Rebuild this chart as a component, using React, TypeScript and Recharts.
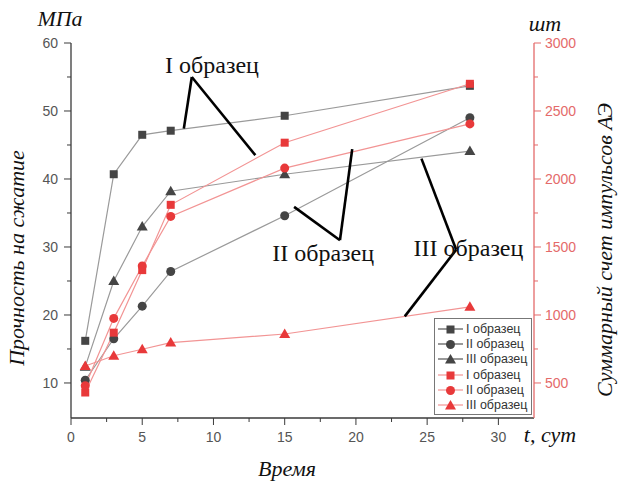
import React from "react"
import { LineChart, Line, XAxis, YAxis, ReferenceLine, ReferenceDot } from "recharts"

const days = [1, 3, 5, 7, 15, 28]
const strengthI = [16.2, 40.7, 46.5, 47.1, 49.3, 53.7]
const strengthII = [10.4, 16.5, 21.3, 26.4, 34.6, 49.0]
const strengthIII = [12.4, 25.0, 33.0, 38.2, 40.7, 44.1]
const aeI = [430, 870, 1330, 1810, 2267, 2700]
const aeII = [480, 975, 1360, 1725, 2080, 2405]
const aeIII = [625, 700, 748, 797, 860, 1060]

const xTicks = [0, 2.5, 5, 7.5, 10, 12.5, 15, 17.5, 20, 22.5, 25, 27.5, 30]
const leftTicks = [10, 15, 20, 25, 30, 35, 40, 45, 50, 55, 60]
const rightTicks = [500, 750, 1000, 1250, 1500, 1750, 2000, 2250, 2500, 2750, 3000]

const seriesNames = ["I образец", "II образец", "III образец"]

// pointer lines from the labels to the curves (x in days, y in MPa)
const pointers = [
  { label: "I образец", at: [9.9, 56.7], path: [[7.92, 47.4], [8.48, 55.0], [12.94, 43.5]] },
  { label: "II образец", at: [17.7, 29.1], path: [[15.66, 35.9], [18.88, 31.0], [19.74, 44.4]] },
  { label: "III образец", at: [27.9, 29.9], path: [[24.6, 43.0], [27.04, 29.6], [23.43, 19.8]] },
]

const rows = days.map((d, i) => ({
  day: d,
  sI: strengthI[i],
  sII: strengthII[i],
  sIII: strengthIII[i],
  aI: aeI[i],
  aII: aeII[i],
  aIII: aeIII[i],
}))

const GRAY_LINE = "#9a9a9a"
const GRAY_MARK = "#454545"
const RED_LINE = "#f29494"
const RED_MARK = "#e8393a"
const AXIS = "#3a3a3a"
const RED_AXIS = "#e46a6a"
const sans = "'Liberation Sans', Arial, sans-serif"
const serif = "'Liberation Serif', 'Times New Roman', serif"

function Marker({ kind, cx, cy, color }: { kind: string; cx: number; cy: number; color: string }) {
  if (cx == null || cy == null) return null
  if (kind === "square") return <rect x={cx - 4} y={cy - 4} width={8} height={8} fill={color} />
  if (kind === "circle") return <circle cx={cx} cy={cy} r={4.5} fill={color} />
  return <polygon points={`${cx},${cy - 5.5} ${cx - 5.5},${cy + 4} ${cx + 5.5},${cy + 4}`} fill={color} />
}

const dot = (kind: string, color: string) => (p: any) => (
  <Marker key={`${kind}-${color}-${p.index}`} kind={kind} cx={p.cx} cy={p.cy} color={color} />
)

function BottomTick(p: any) {
  const major = p.payload.value % 5 === 0
  return (
    <g>
      <line x1={p.x} x2={p.x} y1={p.y} y2={p.y + (major ? 7 : 4)} stroke={AXIS} />
      {major && (
        <text x={p.x} y={p.y + 24} textAnchor="middle" fontSize={14} fontFamily={sans} fill="#555">
          {p.payload.value}
        </text>
      )}
    </g>
  )
}

function TopTick(p: any) {
  const major = p.payload.value % 5 === 0
  return <line x1={p.x} x2={p.x} y1={p.y} y2={p.y + (major ? 6 : 4)} stroke={AXIS} />
}

function LeftTick(p: any) {
  const major = p.payload.value % 10 === 0
  return (
    <g>
      <line x1={p.x} x2={p.x - (major ? 7 : 4)} y1={p.y} y2={p.y} stroke={AXIS} />
      {major && (
        <text x={p.x - 13} y={p.y + 5} textAnchor="end" fontSize={14} fontFamily={sans} fill="#555">
          {p.payload.value}
        </text>
      )}
    </g>
  )
}

function RightTick(p: any) {
  const major = p.payload.value % 500 === 0
  return (
    <g>
      <line x1={p.x} x2={p.x + (major ? 7 : 4)} y1={p.y} y2={p.y} stroke={RED_AXIS} />
      {major && (
        <text x={p.x + 11} y={p.y + 5} textAnchor="start" fontSize={14} fontFamily={sans} fill={RED_AXIS}>
          {p.payload.value}
        </text>
      )}
    </g>
  )
}

const legendItems = [
  { name: seriesNames[0], kind: "square", line: "#555", mark: GRAY_MARK },
  { name: seriesNames[1], kind: "circle", line: "#555", mark: GRAY_MARK },
  { name: seriesNames[2], kind: "triangle", line: "#555", mark: GRAY_MARK },
  { name: seriesNames[0], kind: "square", line: RED_LINE, mark: RED_MARK },
  { name: seriesNames[1], kind: "circle", line: RED_LINE, mark: RED_MARK },
  { name: seriesNames[2], kind: "triangle", line: RED_LINE, mark: RED_MARK },
]

function BoxLegend() {
  return (
    <div
      style={{
        position: "absolute",
        left: 434,
        top: 318,
        border: "1px solid #777",
        background: "#fff",
        width: 96,
        padding: "2px 0 1px 0",
        fontFamily: sans,
        fontSize: 12.5,
        color: "#333",
      }}
    >
      {legendItems.map((it, i) => (
        <div key={i} style={{ display: "flex", alignItems: "center", height: 15.3 }}>
          <svg width={29} height={14} style={{ marginLeft: 1 }}>
            <line x1={2} x2={27} y1={7} y2={7} stroke={it.line} strokeWidth={1.2} />
            <Marker kind={it.kind} cx={14.5} cy={7.5} color={it.mark} />
          </svg>
          <span style={{ marginLeft: 1, whiteSpace: "nowrap" }}>{it.name}</span>
        </div>
      ))}
    </div>
  )
}

export default function App() {
  return (
    <div style={{ position: "absolute", left: 0, top: 0, width: 623, height: 486, background: "#fff" }}>
      <LineChart width={623} height={486} data={rows} margin={{ top: 43, right: 39, bottom: 38, left: 31 }}>
        <XAxis
          xAxisId="b"
          dataKey="day"
          type="number"
          domain={[0, 32.5]}
          ticks={xTicks}
          interval={0}
          tickSize={0}
          tickMargin={0}
          tickLine={false}
          tick={BottomTick}
          height={30}
          stroke={AXIS}
          strokeWidth={1.3}
        />
        <XAxis
          xAxisId="t"
          orientation="top"
          dataKey="day"
          type="number"
          domain={[0, 32.5]}
          ticks={xTicks}
          interval={0}
          tickSize={0}
          tickMargin={0}
          tickLine={false}
          tick={TopTick}
          height={0}
          stroke={AXIS}
          strokeWidth={1.3}
        />
        <YAxis
          yAxisId="left"
          type="number"
          domain={[4.85, 60]}
          ticks={leftTicks}
          interval={0}
          tickSize={0}
          tickMargin={0}
          tickLine={false}
          tick={LeftTick}
          width={40}
          stroke={AXIS}
          strokeWidth={1.3}
        />
        <YAxis
          yAxisId="right"
          orientation="right"
          type="number"
          domain={[242.5, 3000]}
          ticks={rightTicks}
          interval={0}
          tickSize={0}
          tickMargin={0}
          tickLine={false}
          tick={RightTick}
          width={50}
          stroke={RED_AXIS}
          strokeWidth={1.3}
        />
        <Line xAxisId="b" yAxisId="left" dataKey="sI" name="I образец" stroke={GRAY_LINE} strokeWidth={1.2} dot={dot("square", GRAY_MARK)} isAnimationActive={false} />
        <Line xAxisId="b" yAxisId="left" dataKey="sII" name="II образец" stroke={GRAY_LINE} strokeWidth={1.2} dot={dot("circle", GRAY_MARK)} isAnimationActive={false} />
        <Line xAxisId="b" yAxisId="left" dataKey="sIII" name="III образец" stroke={GRAY_LINE} strokeWidth={1.2} dot={dot("triangle", GRAY_MARK)} isAnimationActive={false} />
        <Line xAxisId="b" yAxisId="right" dataKey="aI" name="I образец " stroke={RED_LINE} strokeWidth={1.2} dot={dot("square", RED_MARK)} isAnimationActive={false} />
        <Line xAxisId="b" yAxisId="right" dataKey="aII" name="II образец " stroke={RED_LINE} strokeWidth={1.2} dot={dot("circle", RED_MARK)} isAnimationActive={false} />
        <Line xAxisId="b" yAxisId="right" dataKey="aIII" name="III образец " stroke={RED_LINE} strokeWidth={1.2} dot={dot("triangle", RED_MARK)} isAnimationActive={false} />
        {pointers.flatMap((p, i) =>
          p.path.slice(1).map((pt, j) => (
            <ReferenceLine
              key={`pl-${i}-${j}`}
              xAxisId="b"
              yAxisId="left"
              segment={[
                { x: p.path[j][0], y: p.path[j][1] },
                { x: pt[0], y: pt[1] },
              ]}
              stroke="#000"
              strokeWidth={2.6}
              ifOverflow="visible"
            />
          ))
        )}
        {pointers.map((p, i) => (
          <ReferenceDot
            key={`lbl-${i}`}
            xAxisId="b"
            yAxisId="left"
            x={p.at[0]}
            y={p.at[1]}
            ifOverflow="visible"
            shape={(s: any) => (
              <text x={s.cx} y={s.cy + 8} textAnchor="middle" fontSize={24} fontFamily={serif} fill="#111">
                {p.label}
              </text>
            )}
          />
        ))}
      </LineChart>
      <BoxLegend />
      <svg
        width={623}
        height={486}
        style={{ position: "absolute", left: 0, top: 0, pointerEvents: "none" }}
        fontFamily={serif}
        fontStyle="italic"
        fill="#111"
      >
        <text x={60} y={26} fontSize={22} textAnchor="middle">МПа</text>
        <text x={545} y={31} fontSize={22} textAnchor="middle">шт</text>
        <text x={550} y={442} fontSize={22} textAnchor="middle">t, сут</text>
        <text x={287} y={476} fontSize={22} textAnchor="middle">Время</text>
        <text transform="translate(24,258) rotate(-90)" fontSize={22} textAnchor="middle">Прочность на сжатие</text>
        <text transform="translate(612,250) rotate(-90)" fontSize={22} textAnchor="middle">Суммарный счет импульсов АЭ</text>
      </svg>
    </div>
  )
}
